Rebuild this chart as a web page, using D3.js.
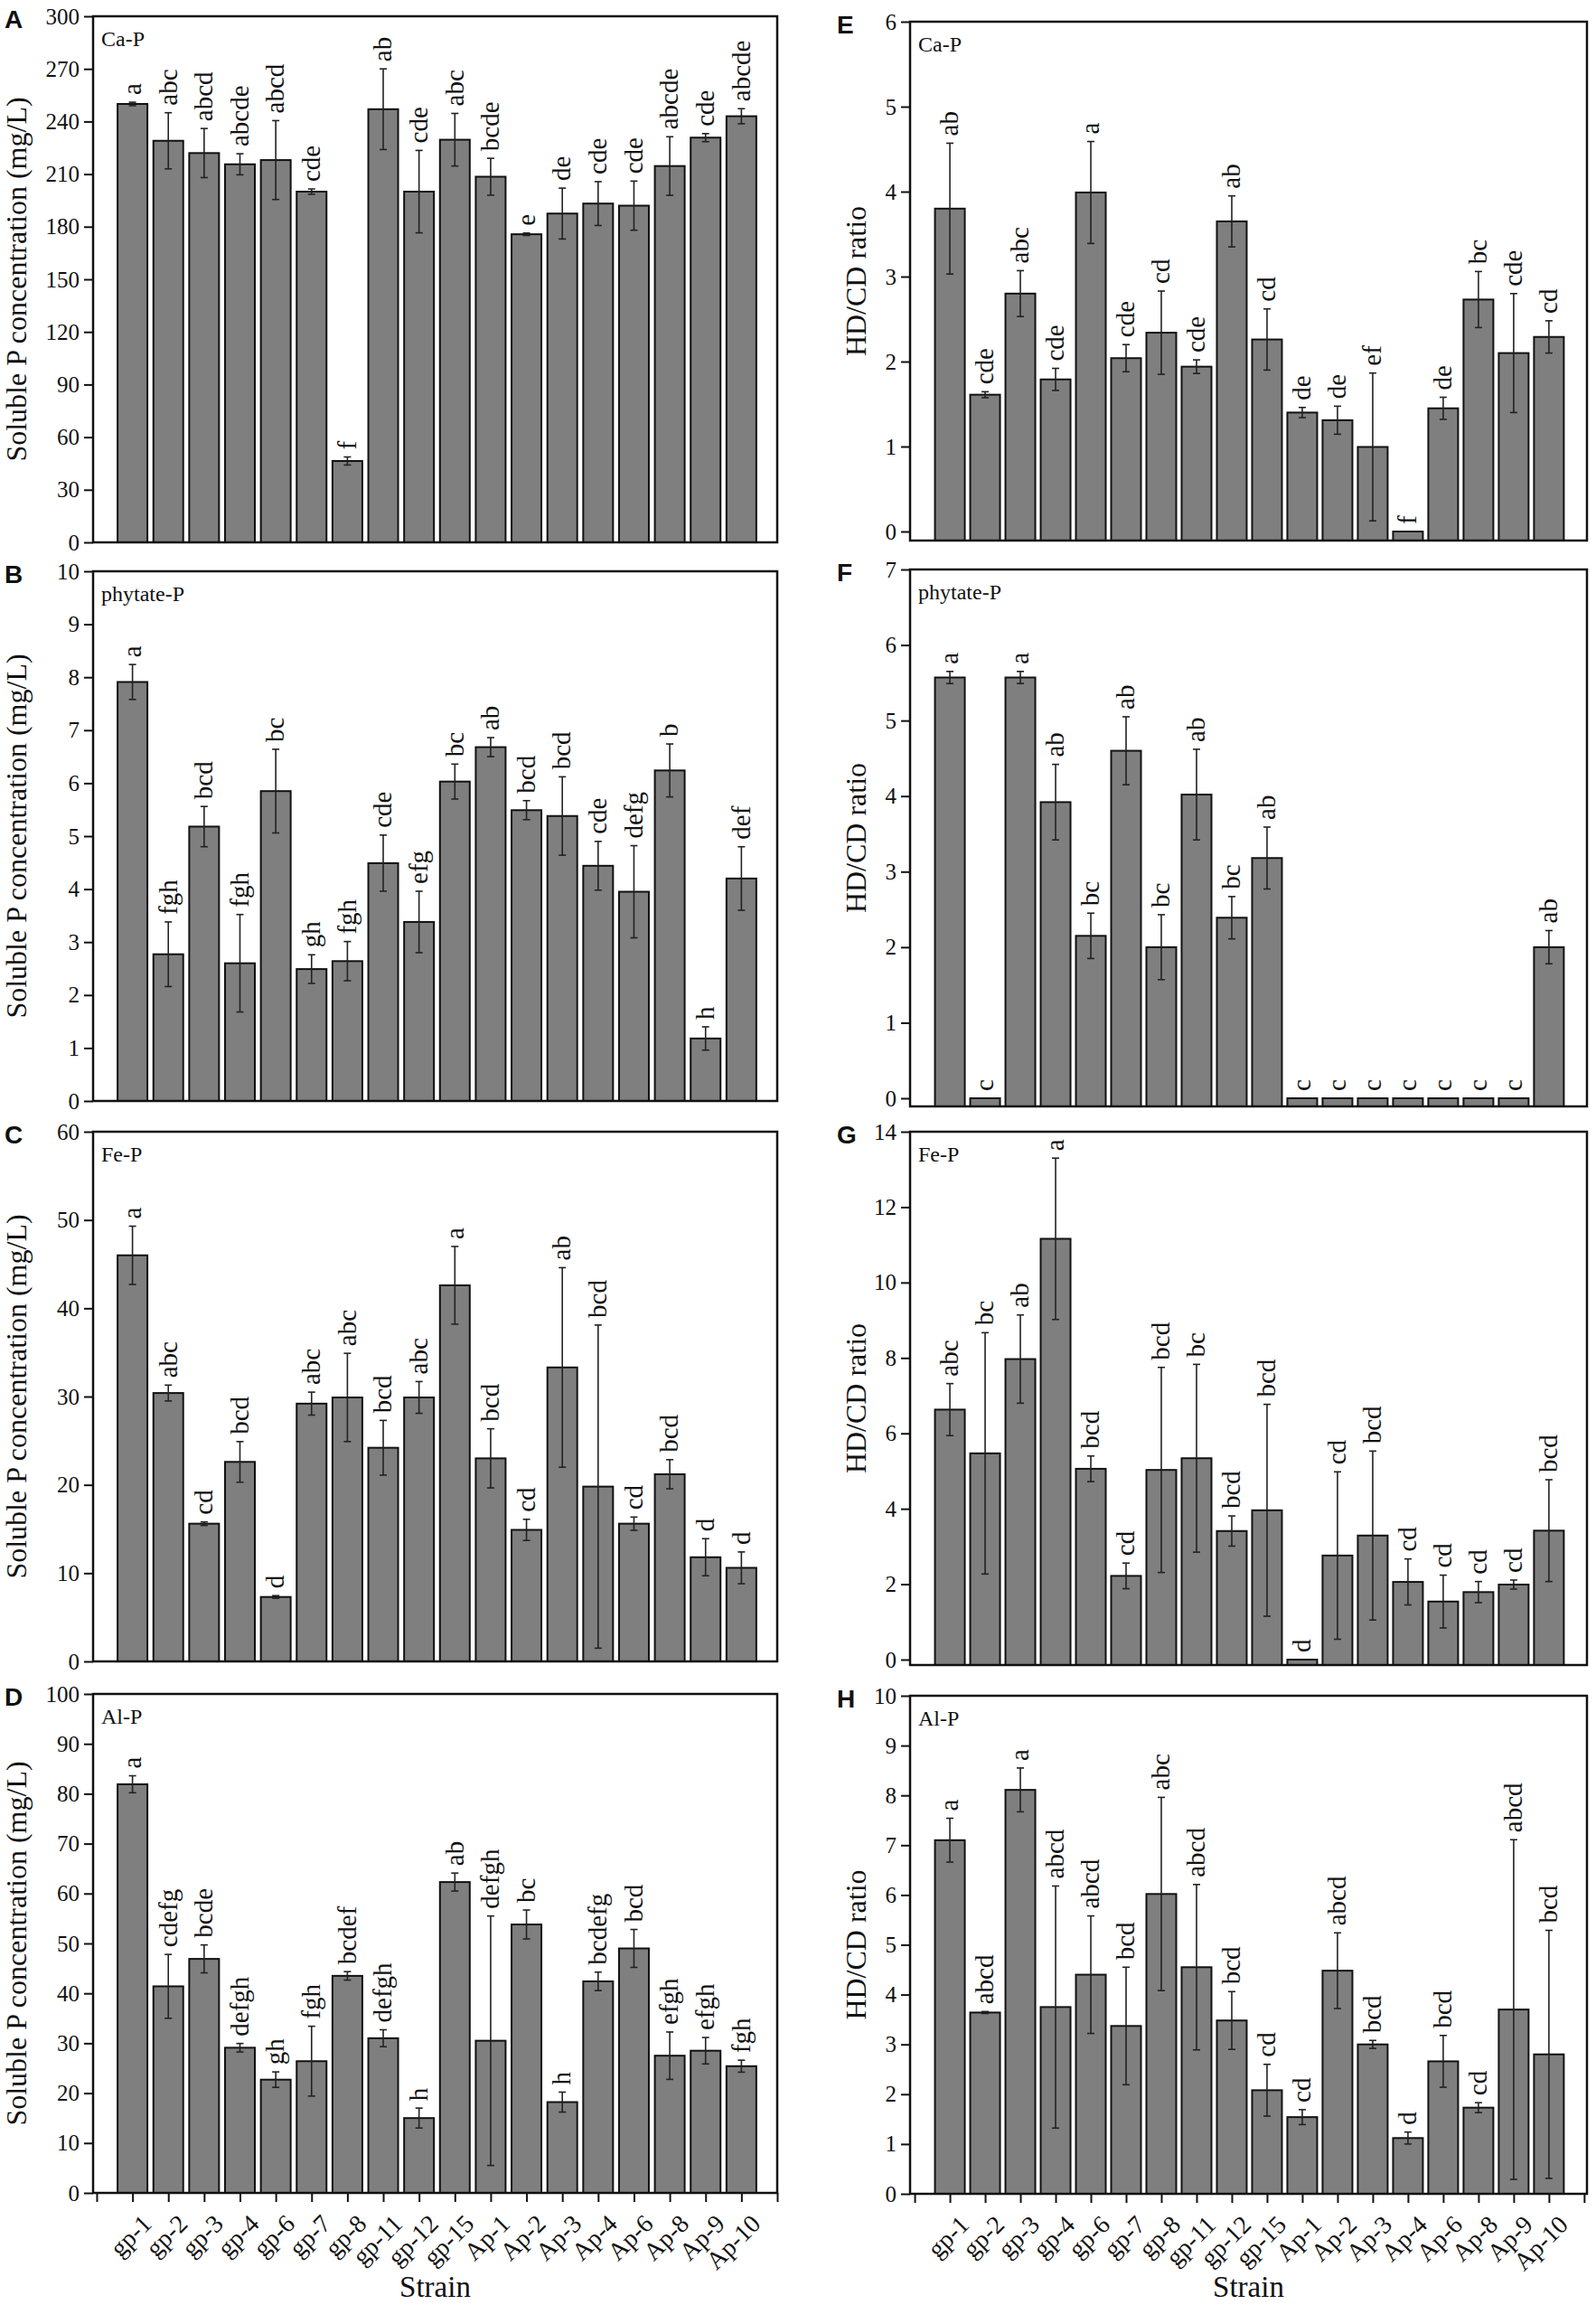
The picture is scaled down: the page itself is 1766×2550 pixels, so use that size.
<!DOCTYPE html>
<html>
<head>
<meta charset="utf-8">
<script src="https://cdn.jsdelivr.net/npm/d3@7"></script>
<style>
  body { margin: 0; background: #fff; }
  text { font-family: "Liberation Serif", "Times New Roman", serif; fill: #111; }
</style>
</head>
<body>
<div id="fig"></div>
<script>
// strains on the x axis
var strains = ["gp-1","gp-2","gp-3","gp-4","gp-6","gp-7","gp-8","gp-11","gp-12","gp-15",
               "Ap-1","Ap-2","Ap-3","Ap-4","Ap-6","Ap-8","Ap-9","Ap-10"];

// soluble P concentration (mg/L)
var concCa    = [250,229,222,215.6,218,200,46.4,247,200,229.6,208.5,175.7,187.5,193.2,192,214.6,230.8,243];
var concCaErr = [1,16,14,6,22.5,1.5,2.3,23,23.5,15,10.5,0.7,14.5,12.5,14,16.7,2.3,4.3];
var concCaSig = ["a","abc","abcd","abcde","abcd","cde","f","ab","cde","abc","bcde","e","de","cde","cde","abcde","cde","abcde"];

var concPhy    = [7.91,2.77,5.18,2.60,5.85,2.49,2.64,4.49,3.38,6.03,6.68,5.49,5.38,4.44,3.95,6.24,1.18,4.20];
var concPhyErr = [0.33,0.61,0.38,0.92,0.79,0.27,0.37,0.53,0.58,0.33,0.18,0.18,0.74,0.46,0.87,0.5,0.22,0.6];
var concPhySig = ["a","fgh","bcd","fgh","bc","gh","fgh","cde","efg","bc","ab","bcd","bcd","cde","defg","b","h","def"];

var concFe    = [46.0,30.4,15.6,22.6,7.3,29.2,29.9,24.2,29.9,42.6,23.0,14.9,33.3,19.8,15.6,21.2,11.8,10.6];
var concFeErr = [3.3,0.9,0.2,2.3,0.15,1.3,5,3.1,1.8,4.4,3.35,1.2,11.3,18.3,0.75,1.65,2.1,1.8];
var concFeSig = ["a","abc","cd","bcd","d","abc","abc","bcd","abc","a","bcd","cd","ab","bcd","cd","bcd","d","d"];

var concAl    = [81.9,41.4,46.9,29.1,22.7,26.4,43.5,31.0,15.0,62.3,30.5,53.8,18.2,42.4,49.0,27.5,28.5,25.4];
var concAlErr = [1.7,6.4,2.8,0.85,1.55,7,0.85,1.7,2,1.8,25,2.9,2,1.85,3.8,4.75,2.65,1.2];
var concAlSig = ["a","cdefg","bcde","defgh","gh","fgh","bcdef","defgh","h","ab","defgh","bc","h","bcdefg","bcd","efgh","efgh","fgh"];

// HD/CD ratio
var ratioCa    = [3.80,1.61,2.80,1.79,3.99,2.04,2.34,1.94,3.65,2.26,1.40,1.31,0.995,0,1.45,2.73,2.10,2.29];
var ratioCaErr = [0.77,0.035,0.27,0.13,0.6,0.16,0.49,0.08,0.3,0.36,0.06,0.165,0.87,0,0.13,0.33,0.7,0.19];
var ratioCaSig = ["ab","cde","abc","cde","a","cde","cd","cde","ab","cd","de","de","ef","f","de","bc","cde","cd"];

var ratioPhy    = [5.57,0,5.57,3.92,2.15,4.60,2.00,4.02,2.39,3.18,0,0,0,0,0,0,0,2.00];
var ratioPhyErr = [0.08,0,0.08,0.5,0.3,0.45,0.43,0.6,0.28,0.41,0,0,0,0,0,0,0,0.22];
var ratioPhySig = ["a","c","a","ab","bc","ab","bc","ab","bc","ab","c","c","c","c","c","c","c","ab"];

var ratioFe    = [6.63,5.47,7.97,11.16,5.06,2.22,5.03,5.34,3.41,3.96,0,2.76,3.29,2.06,1.54,1.79,1.99,3.42];
var ratioFeErr = [0.69,3.2,1.17,2.14,0.34,0.34,2.72,2.49,0.4,2.81,0,2.22,2.24,0.61,0.7,0.28,0.12,1.35];
var ratioFeSig = ["abc","bc","ab","a","bcd","cd","bcd","bc","bcd","bcd","d","cd","bcd","cd","cd","cd","cd","bcd"];

var ratioAl    = [7.10,3.64,8.11,3.75,4.40,3.37,6.02,4.55,3.48,2.08,1.54,4.48,3.00,1.12,2.66,1.73,3.70,2.80];
var ratioAlErr = [0.44,0.02,0.44,2.43,1.18,1.18,1.94,1.66,0.58,0.52,0.15,0.76,0.08,0.12,0.52,0.1,3.41,2.49];
var ratioAlSig = ["a","abcd","a","abcd","abcd","bcd","abc","abcd","bcd","cd","cd","abcd","bcd","d","bcd","cd","abcd","bcd"];

var concTitle = "Soluble P concentration (mg/L)";
var ratioTitle = "HD/CD ratio";

var svg = d3.select("#fig").append("svg")
    .attr("width", 1766)
    .attr("height", 2550);

// one panel of the figure
function drawPanel(p) {
  var x = d3.scaleLinear().domain(p.xDomain).range([p.x0, p.x1]);
  var y = d3.scaleLinear().domain([0, p.max]).range([p.zero, p.top]);
  var bw = 33;
  var g = svg.append("g");

  // bars start at the bottom of the frame
  g.selectAll(".bar")
    .data(p.values)
    .enter().append("rect")
      .attr("x", function(d, i) { return x(i + 1) - bw / 2; })
      .attr("y", function(d) { return y(d); })
      .attr("width", bw)
      .attr("height", function(d) { return p.bottom - y(d); })
      .style("fill", "#7f7f7f")
      .style("stroke", "#111")
      .style("stroke-width", 2);

  // error bars
  var eb = g.selectAll(".err")
    .data(p.values.map(function(d, i) { return {v: d, e: p.errs[i], i: i}; })
                  .filter(function(d) { return d.e > 0; }))
    .enter().append("g")
      .style("stroke", "#222")
      .style("stroke-width", 1.6);
  eb.append("line")
      .attr("x1", function(d) { return x(d.i + 1); })
      .attr("x2", function(d) { return x(d.i + 1); })
      .attr("y1", function(d) { return y(d.v - d.e); })
      .attr("y2", function(d) { return y(d.v + d.e); });
  [1, -1].forEach(function(s) {
    eb.append("line")
      .attr("x1", function(d) { return x(d.i + 1) - 4; })
      .attr("x2", function(d) { return x(d.i + 1) + 4; })
      .attr("y1", function(d) { return y(d.v + s * d.e); })
      .attr("y2", function(d) { return y(d.v + s * d.e); });
  });

  // significance letters
  g.selectAll(".sig")
    .data(p.sig)
    .enter().append("text")
      .attr("transform", function(d, i) {
        return "translate(" + x(i + 1) + "," + (y(p.values[i] + p.errs[i]) - 8) + ") rotate(-90)";
      })
      .attr("dy", "0.32em")
      .style("font-size", "29px")
      .text(function(d) { return d; });

  // frame
  g.append("rect")
    .attr("x", p.x0).attr("y", p.top)
    .attr("width", p.x1 - p.x0).attr("height", p.bottom - p.top)
    .style("fill", "none")
    .style("stroke", "#111")
    .style("stroke-width", 2.5);

  // y axis
  var yAxis = g.append("g")
    .attr("transform", "translate(" + p.x0 + ",0)")
    .call(d3.axisLeft(y)
      .tickValues(d3.range(0, p.max + 0.001, p.step))
      .tickFormat(d3.format("d"))
      .tickSize(10).tickPadding(5));
  yAxis.select(".domain").remove();
  yAxis.selectAll("line").style("stroke", "#111").style("stroke-width", 2);
  yAxis.selectAll("text")
    .style("font-size", "25px")
    .style("font-family", "'Liberation Serif', serif")
    .style("fill", "#111");

  // x axis on the bottom panels only
  if (p.showX) {
    var xAxis = g.append("g")
      .attr("transform", "translate(0," + p.bottom + ")")
      .call(d3.axisBottom(x).tickValues(d3.range(0, 20)).tickSize(10).tickFormat(""));
    xAxis.select(".domain").remove();
    xAxis.selectAll("line").style("stroke", "#111").style("stroke-width", 2);

    g.selectAll(".xlab")
      .data(strains)
      .enter().append("text")
        .attr("transform", function(d, i) {
          return "translate(" + (x(i + 1) + 9) + "," + (p.bottom + 22) + ") rotate(-45)";
        })
        .attr("text-anchor", "end")
        .attr("dy", "0.7em")
        .style("font-size", "28px")
        .text(function(d) { return d; });

    g.append("text")
      .attr("x", (p.x0 + p.x1) / 2)
      .attr("y", 2541)
      .attr("text-anchor", "middle")
      .style("font-size", "33px")
      .text("Strain");
  }

  // y title
  g.append("text")
    .attr("transform", "translate(" + p.titleX + "," + ((p.top + p.bottom) / 2) + ") rotate(-90)")
    .attr("text-anchor", "middle")
    .style("font-size", p.titleSize + "px")
    .text(p.title);

  // form of P inside the frame
  g.append("text")
    .attr("x", p.x0 + 9)
    .attr("y", p.top + 33)
    .style("font-size", "24px")
    .text(p.name);

  // panel letter
  g.append("text")
    .attr("x", p.letterX)
    .attr("y", p.top + 13)
    .style("font-family", "'Liberation Sans', Arial, sans-serif")
    .style("font-weight", "bold")
    .style("font-size", "28px")
    .text(p.letter);
}

var leftCol  = {x0: 103, x1: 860, xDomain: [-0.1, 19], titleX: 29, titleSize: 32, letterX: 5, title: concTitle};
var rightCol = {x0: 1007, x1: 1756, xDomain: [-0.13, 19.08], titleX: 958, titleSize: 32, letterX: 926, title: ratioTitle};

var panels = [
  {col: leftCol, letter: "A", name: "Ca-P", top: 18, zero: 600, bottom: 600, max: 300, step: 30, values: concCa, errs: concCaErr, sig: concCaSig},
  {col: leftCol, letter: "B", name: "phytate-P", top: 632, zero: 1218, bottom: 1218, max: 10, step: 1, values: concPhy, errs: concPhyErr, sig: concPhySig},
  {col: leftCol, letter: "C", name: "Fe-P", top: 1252, zero: 1838, bottom: 1838, max: 60, step: 10, values: concFe, errs: concFeErr, sig: concFeSig},
  {col: leftCol, letter: "D", name: "Al-P", top: 1874, zero: 2426, bottom: 2426, max: 100, step: 10, values: concAl, errs: concAlErr, sig: concAlSig, showX: true},
  {col: rightCol, letter: "E", name: "Ca-P", top: 24, zero: 588, bottom: 598, max: 6, step: 1, values: ratioCa, errs: ratioCaErr, sig: ratioCaSig},
  {col: rightCol, letter: "F", name: "phytate-P", top: 630, zero: 1215, bottom: 1224, max: 7, step: 1, values: ratioPhy, errs: ratioPhyErr, sig: ratioPhySig},
  {col: rightCol, letter: "G", name: "Fe-P", top: 1252, zero: 1836, bottom: 1842, max: 14, step: 2, values: ratioFe, errs: ratioFeErr, sig: ratioFeSig},
  {col: rightCol, letter: "H", name: "Al-P", top: 1876, zero: 2427, bottom: 2427, max: 10, step: 1, values: ratioAl, errs: ratioAlErr, sig: ratioAlSig, showX: true}
];

panels.forEach(function(p) {
  drawPanel(Object.assign({}, p.col, p));
});
</script>
</body>
</html>
